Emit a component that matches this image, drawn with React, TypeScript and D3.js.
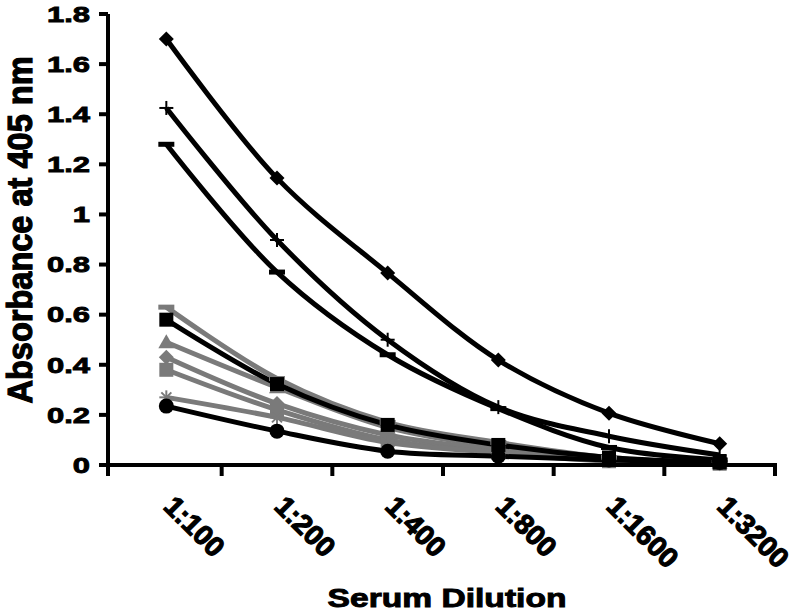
import React from "react";
import * as d3 from "d3";

const categories = ["1:100", "1:200", "1:400", "1:800", "1:1600", "1:3200"];
const yTicks = [0, 0.2, 0.4, 0.6, 0.8, 1, 1.2, 1.4, 1.6, 1.8];

// gray series (drawn first)
const grayDash = [0.63, 0.345, 0.17, 0.09, 0.03, 0.01];
const grayTriangle = [0.49, 0.31, 0.15, 0.07, 0.02, 0.01];
const grayDiamond = [0.43, 0.245, 0.12, 0.06, 0.02, 0.005];
const graySquare = [0.38, 0.22, 0.1, 0.05, 0.015, 0.005];
const grayStar = [0.27, 0.19, 0.09, 0.05, 0.02, 0.01];
// black series
const blackCircle = [0.235, 0.135, 0.055, 0.035, 0.02, 0.01];
const blackSquare = [0.58, 0.323, 0.16, 0.08, 0.03, 0.01];
const blackDash = [1.28, 0.77, 0.44, 0.225, 0.07, 0.02];
const blackPlus = [1.425, 0.898, 0.5, 0.231, 0.115, 0.04];
const blackDiamond = [1.7, 1.145, 0.766, 0.419, 0.207, 0.085];

type Series = { values: number[]; color: string; marker: string };
const series: Series[] = [
  { values: grayDash, color: "#7a7a7a", marker: "dash" },
  { values: grayTriangle, color: "#7a7a7a", marker: "triangle" },
  { values: grayDiamond, color: "#7a7a7a", marker: "diamond" },
  { values: graySquare, color: "#7a7a7a", marker: "square" },
  { values: grayStar, color: "#7a7a7a", marker: "star" },
  { values: blackCircle, color: "#000", marker: "circle" },
  { values: blackSquare, color: "#000", marker: "square" },
  { values: blackDash, color: "#000", marker: "dash" },
  { values: blackPlus, color: "#000", marker: "plus" },
  { values: blackDiamond, color: "#000", marker: "diamond" },
];

const FONT = "Arial, 'Liberation Sans', Helvetica, sans-serif";

function Marker({ type, x, y, color }: { type: string; x: number; y: number; color: string }) {
  const t = `translate(${x},${y})`;
  switch (type) {
    case "diamond":
      return <path transform={t} d="M0,-7.5L7.5,0L0,7.5L-7.5,0Z" fill={color} />;
    case "square":
      return <rect transform={t} x={-7} y={-7} width={14} height={14} fill={color} />;
    case "circle":
      return <circle transform={t} r={7.5} fill={color} />;
    case "triangle":
      return <path transform={t} d="M0,-8L8,6L-8,6Z" fill={color} />;
    case "dash":
      return <rect transform={t} x={-8} y={-2.5} width={16} height={5} fill={color} />;
    case "plus":
      return (
        <g transform={t} stroke={color} strokeWidth={2}>
          <line x1={-7} y1={0} x2={7} y2={0} />
          <line x1={0} y1={-7} x2={0} y2={7} />
        </g>
      );
    case "star":
      return (
        <g transform={t} stroke={color} strokeWidth={2}>
          <line x1={-7} y1={0} x2={7} y2={0} />
          <line x1={0} y1={-7} x2={0} y2={7} />
          <line x1={-5} y1={-5} x2={5} y2={5} />
          <line x1={-5} y1={5} x2={5} y2={-5} />
        </g>
      );
    default:
      return null;
  }
}

export default function App() {
  const x = d3.scaleBand<string>().domain(categories).range([111, 775]);
  const cx = (c: string) => (x(c) as number) + x.bandwidth() / 2;
  const y = d3.scaleLinear().domain([0, 1.8]).range([465, 14]);
  const line = d3
    .line<number>()
    .x((_, i) => cx(categories[i]))
    .y((v) => y(v))
    .curve(d3.curveCatmullRom.alpha(0.5));

  const x0 = 108;
  const xEnd = 777;
  const bandTicks = categories.map((c) => (x(c) as number) + x.bandwidth());
  const heavy = { stroke: "#000", strokeWidth: 1.2, paintOrder: "stroke" } as any;

  return (
    <svg width={800} height={611} style={{ position: "absolute", left: 0, top: 0, background: "#fff" }}>
      <rect width={800} height={611} fill="#fff" />
      {/* lines */}
      {series.map((s, i) => (
        <path key={"l" + i} d={line(s.values) || ""} fill="none" stroke={s.color} strokeWidth={5} />
      ))}
      {/* markers */}
      {series.map((s, i) =>
        s.values.map((v, j) => (
          <Marker key={"m" + i + "-" + j} type={s.marker} x={cx(categories[j])} y={y(v)} color={s.color} />
        ))
      )}
      {/* axes */}
      <line x1={x0} y1={y(1.8)} x2={x0} y2={y(0) + 2} stroke="#000" strokeWidth={4} />
      <line x1={x0 - 2} y1={y(0)} x2={xEnd} y2={y(0)} stroke="#000" strokeWidth={4} />
      {yTicks.map((t) => (
        <line key={"yt" + t} x1={x0 - 9} x2={x0} y1={y(t)} y2={y(t)} stroke="#000" strokeWidth={4} />
      ))}
      {[x0, ...bandTicks].map((t, i) => (
        <line key={"xt" + i} x1={t} x2={t} y1={y(0)} y2={y(0) + 11} stroke="#000" strokeWidth={4} />
      ))}
      {/* y tick labels */}
      {yTicks.map((t) => (
        <text
          key={"yl" + t}
          transform={`translate(90,${y(t) + 7.8}) scale(1,0.7)`}
          textAnchor="end"
          fontFamily={FONT}
          fontWeight="bold"
          fontSize={31}
          fill="#000"
          {...heavy}
        >
          {String(t)}
        </text>
      ))}
      {/* x tick labels */}
      {categories.map((c) => (
        <text
          key={"xl" + c}
          transform={`translate(${cx(c) - 4},508) rotate(45)`}
          textAnchor="start"
          fontFamily={FONT}
          fontWeight="bold"
          fontSize={28}
          fill="#000"
          {...heavy}
        >
          {c}
        </text>
      ))}
      {/* axis titles */}
      <text
        transform="translate(447,607) scale(1,0.79)"
        textAnchor="middle"
        fontFamily={FONT}
        fontWeight="bold"
        fontSize={33.6}
        fill="#000"
        {...heavy}
      >
        Serum Dilution
      </text>
      <text
        transform="translate(32,230) scale(1,0.93) rotate(-90)"
        textAnchor="middle"
        fontFamily={FONT}
        fontWeight="bold"
        fontSize={35}
        fill="#000"
        {...heavy}
      >
        Absorbance at 405 nm
      </text>
    </svg>
  );
}
